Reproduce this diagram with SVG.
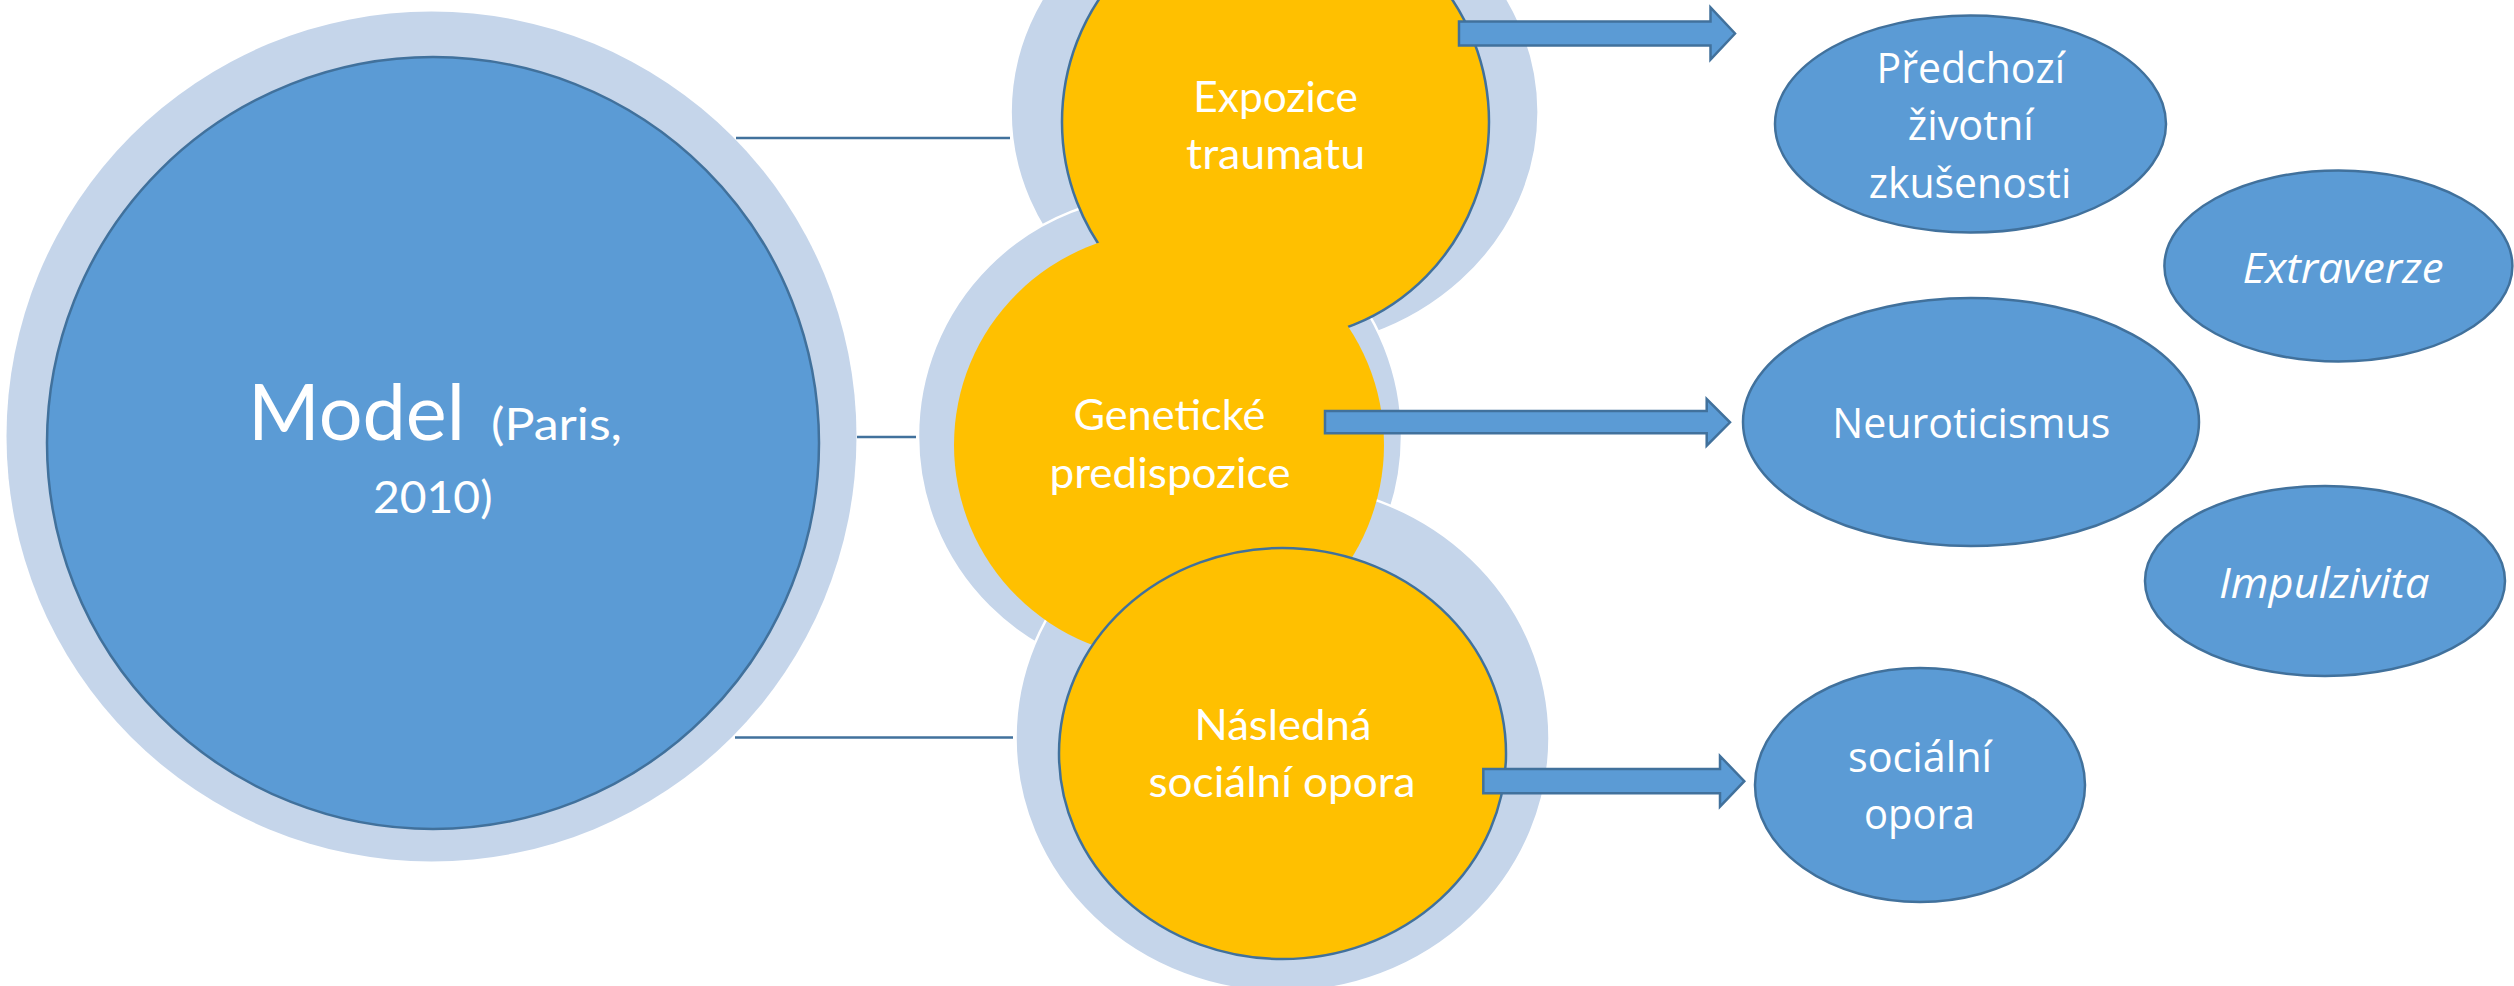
<svg xmlns="http://www.w3.org/2000/svg" width="2514" height="986" viewBox="0 0 2514 986">
<style>
.bg{fill:#ffffff}
.halo{fill:#C5D5EA;stroke:#ffffff;stroke-width:2.5}
.yellow{fill:#FFC000;stroke:#41719C;stroke-width:2.5}
.yellow-ns{fill:#FFC000;stroke:none}
.blue{fill:#5B9BD5;stroke:#41719C;stroke-width:2.5}
.link{stroke:#41719C;stroke-width:2.5;fill:none}
.arrow{fill:#5B9BD5;stroke:#41719C;stroke-width:2.5;stroke-linejoin:miter}
.cal{font-family:Lato,"Open Sans",sans-serif;fill:#ffffff}
.seg{font-family:"Open Sans","Noto Sans",sans-serif;fill:#ffffff;font-size:41.5px}
</style>
<rect class="bg" x="0" y="0" width="2514" height="986"/>

<g id="model">
  <circle cx="431.5" cy="436.5" r="425" fill="#C5D5EA"/>
  <circle cx="433" cy="443" r="386" class="blue" stroke-width="3"/>
  <text class="cal" x="248" y="440" font-size="77" textLength="217" lengthAdjust="spacingAndGlyphs">Model</text>
  <text class="cal" x="491" y="440" font-size="45" textLength="131" lengthAdjust="spacingAndGlyphs">(Paris,</text>
  <text class="cal" x="373" y="512.6" font-size="45" textLength="119.5" lengthAdjust="spacingAndGlyphs">2010)</text>
</g>

<g id="halos">
  <ellipse id="expozice-halo" class="halo" cx="1274.6" cy="112" rx="264" ry="239"/>
  <ellipse id="geneticke-halo" class="halo" cx="1160" cy="436" rx="242" ry="241"/>
  <ellipse id="nasledna-halo" class="halo" cx="1282.5" cy="738" rx="267" ry="254"/>
</g>

<g id="expozice">
  <ellipse class="yellow" cx="1275.5" cy="122" rx="213.5" ry="218"/>
  <text class="cal" x="1275.6" y="111.5" font-size="43" text-anchor="middle" textLength="164.5" lengthAdjust="spacingAndGlyphs">Expozice</text>
  <text class="cal" x="1275.6" y="169.2" font-size="43" text-anchor="middle" textLength="179" lengthAdjust="spacingAndGlyphs">traumatu</text>
</g>

<g id="geneticke">
  <ellipse class="yellow-ns" cx="1169" cy="445" rx="215" ry="214"/>
  <text class="cal" x="1169.4" y="430" font-size="43" text-anchor="middle" textLength="192" lengthAdjust="spacingAndGlyphs">Genetické</text>
  <text class="cal" x="1170" y="488.2" font-size="43" text-anchor="middle" textLength="241" lengthAdjust="spacingAndGlyphs">predispozice</text>
</g>

<g id="nasledna">
  <ellipse class="yellow" cx="1282.5" cy="753.5" rx="223.5" ry="205.5"/>
  <text class="cal" x="1283" y="740.3" font-size="43" text-anchor="middle" textLength="176.8" lengthAdjust="spacingAndGlyphs">Následná</text>
  <text class="cal" x="1282" y="797.2" font-size="43" text-anchor="middle" textLength="267" lengthAdjust="spacingAndGlyphs">sociální opora</text>
</g>

<g id="predchozi">
  <ellipse class="blue" cx="1970.5" cy="124" rx="195.5" ry="108.5"/>
  <text class="seg" x="1970.8" y="83" text-anchor="middle" textLength="188.5" lengthAdjust="spacingAndGlyphs">Předchozí</text>
  <text class="seg" x="1970.8" y="139.6" text-anchor="middle" textLength="126" lengthAdjust="spacingAndGlyphs">životní</text>
  <text class="seg" x="1970" y="198" text-anchor="middle" textLength="202.5" lengthAdjust="spacingAndGlyphs">zkušenosti</text>
</g>

<g id="extraverze">
  <ellipse class="blue" cx="2338.4" cy="266" rx="174" ry="95.5"/>
  <text class="seg" x="2343" y="283" text-anchor="middle" font-style="italic" textLength="201" lengthAdjust="spacingAndGlyphs">Extraverze</text>
</g>

<g id="neuroticismus">
  <ellipse class="blue" cx="1971" cy="422" rx="228" ry="124"/>
  <text class="seg" x="1971.3" y="438.4" text-anchor="middle" textLength="278" lengthAdjust="spacingAndGlyphs">Neuroticismus</text>
</g>

<g id="impulzivita">
  <ellipse class="blue" cx="2325" cy="581" rx="180" ry="95"/>
  <text class="seg" x="2324.3" y="597.5" text-anchor="middle" font-style="italic" textLength="210.5" lengthAdjust="spacingAndGlyphs">Impulzivita</text>
</g>

<g id="socialni-opora">
  <ellipse class="blue" cx="1920" cy="785" rx="165" ry="117"/>
  <text class="seg" x="1920" y="772" text-anchor="middle" textLength="144" lengthAdjust="spacingAndGlyphs">sociální</text>
  <text class="seg" x="1919.5" y="829" text-anchor="middle" textLength="111" lengthAdjust="spacingAndGlyphs">opora</text>
</g>

<g id="connectors">
  <line class="link" x1="736" y1="138" x2="1010" y2="138"/>
  <line class="link" x1="857" y1="437" x2="916" y2="437"/>
  <line class="link" x1="735" y1="737.4" x2="1013" y2="737.4"/>
  <polygon class="arrow" points="1459,21.5 1710.5,21.5 1710.5,7.5 1735,33.5 1710.5,59.5 1710.5,45.5 1459,45.5"/>
  <polygon class="arrow" points="1325,411 1706.7,411 1706.7,399 1730,422.3 1706.7,445.7 1706.7,433.3 1325,433.3"/>
  <polygon class="arrow" points="1483.3,769 1720,769 1720,756 1744.3,781.2 1720,806.7 1720,793.3 1483.3,793.3"/>
</g>
</svg>
